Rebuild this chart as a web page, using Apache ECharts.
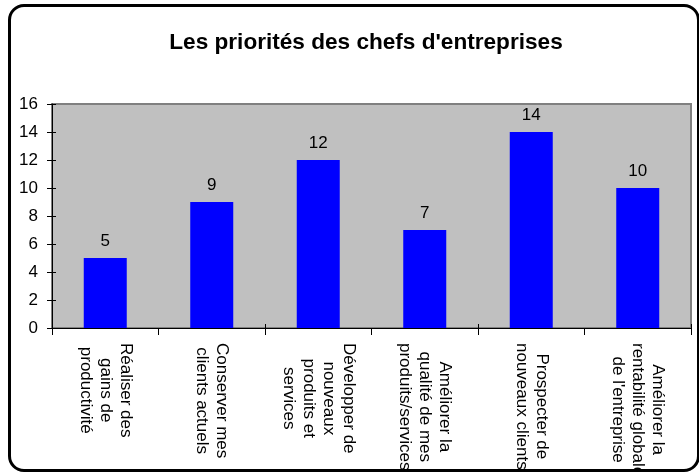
<!DOCTYPE html>
<html>
<head>
<meta charset="utf-8">
<script src="https://cdn.jsdelivr.net/npm/echarts@6/dist/echarts.min.js"></script>
<style>
  html, body { margin: 0; padding: 0; background: #fff; width: 699px; height: 474px; overflow: hidden; }
  #frame { position: absolute; left: 8px; top: 4px; width: 692px; height: 468px; box-sizing: border-box;
           border: 3px solid #000; border-radius: 16px; overflow: hidden; background: #fff; }
  #chart { position: absolute; left: -11px; top: -7px; width: 699px; height: 474px; }
</style>
</head>
<body>
<div id="frame"><div id="chart"></div></div>
<script>
const titleText = "Les priorités des chefs d'entreprises";
const categories = [
  "Réaliser des\ngains de\nproductivité",
  "Conserver mes\nclients actuels",
  "Développer de\nnouveaux\nproduits et\nservices",
  "Améliorer la\nqualité de mes\nproduits/services",
  "Prospecter de\nnouveaux clients",
  "Améliorer la\nrentabilité globale\nde l'entreprise"
];
const values = [5, 9, 12, 7, 14, 10];
const yTicks = { min: 0, max: 16, interval: 2 };

const chart = echarts.init(document.getElementById('chart'), null, { renderer: 'canvas' });
const font = 'Arial, "Liberation Sans", sans-serif';
chart.setOption({
  animation: false,
  title: {
    text: titleText, left: 361, top: 26, textAlign: 'center',
    textStyle: { fontFamily: font, fontSize: 22.6, fontWeight: 'bold', color: '#000' }
  },
  grid: {
    left: 52, right: 8, top: 104, bottom: 146, containLabel: false, outerBoundsMode: 'none',
    show: true, backgroundColor: '#C0C0C0', borderColor: '#808080', borderWidth: 2
  },
  xAxis: [{
    type: 'category', data: categories, position: 'bottom',
    axisLine: { lineStyle: { color: '#000', width: 1 } },
    axisTick: { show: true, length: 7, lineStyle: { color: '#000' } },
    axisLabel: {
      interval: 0, rotate: -90, margin: 15, fontFamily: font, fontSize: 17, color: '#000',
      formatter: function (v) { return v.split('\n').map(function (l) { return '{c|' + l + '}'; }).join('\n'); },
      rich: { c: { align: 'center', fontFamily: font, fontSize: 17, lineHeight: 20, color: '#000' } }
    },
    splitLine: { show: false }
  }, {
    type: 'category', data: categories, position: 'bottom', offset: 0,
    axisLine: { show: false },
    axisTick: { show: true, inside: true, length: 4, lineStyle: { color: '#000' } },
    axisLabel: { show: false }, splitLine: { show: false }
  }],
  yAxis: [{
    type: 'value', min: yTicks.min, max: yTicks.max, interval: yTicks.interval, position: 'left',
    axisLine: { show: true, lineStyle: { color: '#000', width: 1 } },
    axisTick: { show: true, length: 5, lineStyle: { color: '#000' } },
    axisLabel: { margin: 14, fontFamily: font, fontSize: 17, color: '#000' },
    splitLine: { show: false }
  }, {
    type: 'value', min: yTicks.min, max: yTicks.max, interval: yTicks.interval, position: 'left', offset: 0,
    axisLine: { show: false },
    axisTick: { show: true, inside: true, length: 4, lineStyle: { color: '#000' } },
    axisLabel: { show: false }, splitLine: { show: false }
  }],
  series: [{
    type: 'bar', data: values, xAxisIndex: 0, yAxisIndex: 0, barWidth: 43,
    itemStyle: { color: '#0000FF' },
    label: { show: true, position: 'top', distance: 8, fontFamily: font, fontSize: 17, color: '#000' }
  }]
});
</script>
</body>
</html>
